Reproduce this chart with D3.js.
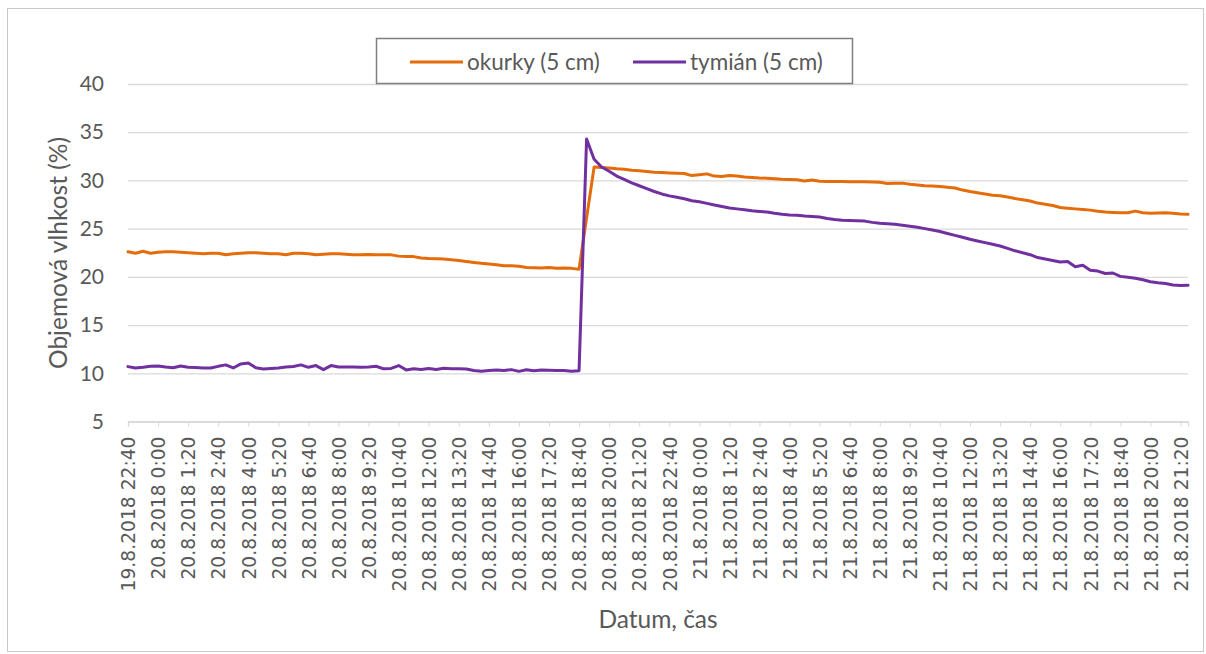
<!DOCTYPE html>
<html>
<head>
<meta charset="utf-8">
<script src="https://cdn.jsdelivr.net/npm/d3@7"></script>
<style>
body { margin: 0; background: #fff; }
svg { display: block; }
</style>
</head>
<body>
<svg id="chart" width="1206" height="654"></svg>
<script>
// tick labels every 4th category (20 min steps)
var tickLabels = ["19.8.2018 22:40", "20.8.2018 0:00", "20.8.2018 1:20", "20.8.2018 2:40", "20.8.2018 4:00",
  "20.8.2018 5:20", "20.8.2018 6:40", "20.8.2018 8:00", "20.8.2018 9:20", "20.8.2018 10:40",
  "20.8.2018 12:00", "20.8.2018 13:20", "20.8.2018 14:40", "20.8.2018 16:00", "20.8.2018 17:20",
  "20.8.2018 18:40", "20.8.2018 20:00", "20.8.2018 21:20", "20.8.2018 22:40", "21.8.2018 0:00",
  "21.8.2018 1:20", "21.8.2018 2:40", "21.8.2018 4:00", "21.8.2018 5:20", "21.8.2018 6:40",
  "21.8.2018 8:00", "21.8.2018 9:20", "21.8.2018 10:40", "21.8.2018 12:00", "21.8.2018 13:20",
  "21.8.2018 14:40", "21.8.2018 16:00", "21.8.2018 17:20", "21.8.2018 18:40", "21.8.2018 20:00",
  "21.8.2018 21:20"];

var yTicks = [5, 10, 15, 20, 25, 30, 35, 40];

var okurky = [
  22.6, 22.45, 22.65, 22.45, 22.55, 22.6, 22.6, 22.55, 22.5, 22.45,
  22.4, 22.45, 22.45, 22.3, 22.4, 22.45, 22.5, 22.5, 22.45, 22.4,
  22.4, 22.3, 22.45, 22.45, 22.4, 22.3, 22.35, 22.4, 22.4, 22.35,
  22.3, 22.3, 22.32, 22.3, 22.3, 22.28, 22.15, 22.12, 22.1, 21.95,
  21.9, 21.88, 21.85, 21.78, 21.7, 21.6, 21.5, 21.4, 21.33, 21.25,
  21.15, 21.15, 21.1, 20.98, 20.95, 20.92, 20.98, 20.9, 20.92, 20.88,
  20.8, 26.1,
  31.38, 31.35, 31.3, 31.2, 31.15, 31.05, 31.0, 30.92,
  30.85, 30.82, 30.78, 30.75, 30.72, 30.5, 30.6, 30.68, 30.45, 30.4,
  30.5, 30.45, 30.35, 30.3, 30.25, 30.22, 30.18, 30.12, 30.1, 30.08,
  29.95, 30.05, 29.92, 29.9, 29.9, 29.88, 29.87, 29.86, 29.86, 29.84,
  29.8, 29.68, 29.7, 29.72, 29.6, 29.52, 29.45, 29.42, 29.38, 29.3,
  29.22, 29.0, 28.85, 28.72, 28.6, 28.47, 28.4, 28.28, 28.12, 28.0,
  27.86, 27.65, 27.52, 27.4, 27.2, 27.12, 27.05, 26.98, 26.92, 26.8,
  26.72, 26.68, 26.65, 26.65, 26.82, 26.65, 26.6, 26.62, 26.65, 26.6,
  26.52, 26.48];

var tymian = [
  10.69, 10.55, 10.62, 10.72, 10.76, 10.66, 10.58, 10.76, 10.62, 10.6,
  10.55, 10.55, 10.72, 10.87, 10.55, 10.97, 11.07, 10.58, 10.45, 10.5,
  10.56, 10.64, 10.7, 10.87, 10.62, 10.8, 10.38, 10.8, 10.65, 10.66,
  10.64, 10.62, 10.66, 10.73, 10.46, 10.5, 10.8, 10.35, 10.46, 10.4,
  10.5, 10.4, 10.52, 10.46, 10.46, 10.44, 10.28, 10.22, 10.3, 10.34,
  10.28, 10.38, 10.2, 10.36, 10.26, 10.34, 10.32, 10.3, 10.28, 10.2,
  10.26, 34.3,
  32.2, 31.4, 30.95, 30.45, 30.1, 29.75, 29.45, 29.15,
  28.85, 28.6, 28.4, 28.25, 28.1, 27.9, 27.78, 27.62, 27.45, 27.3,
  27.15, 27.05, 26.95, 26.85, 26.78, 26.72, 26.6, 26.5, 26.42, 26.38,
  26.3, 26.25, 26.2, 26.05, 25.95, 25.88, 25.85, 25.82, 25.78, 25.65,
  25.55, 25.5, 25.45, 25.35, 25.25, 25.15, 25.0, 24.85, 24.7, 24.5,
  24.3, 24.1, 23.9, 23.72, 23.55, 23.38, 23.2, 22.95, 22.7, 22.5,
  22.3, 22.0, 21.85, 21.7, 21.55, 21.6, 21.05, 21.2, 20.68, 20.6,
  20.35, 20.4, 20.05, 19.95, 19.85, 19.7, 19.5, 19.4, 19.32, 19.15,
  19.1, 19.12];

var series = [
  {name: "okurky (5 cm)", values: okurky, color: "#E46C0A"},
  {name: "tymián (5 cm)", values: tymian, color: "#7030A0"}
];

var svg = d3.select("#chart");
var plot = {left: 128, right: 1188, top: 84, bottom: 421.5};
var textFont = "Lato, 'Open Sans', sans-serif";
var grey = "#595959";

// chart frame
svg.append("rect")
  .attr("x", 7.5).attr("y", 8.5)
  .attr("width", 1196).attr("height", 643)
  .attr("fill", "#fff")
  .attr("stroke", "#c8c8c8");

var x = d3.scaleLinear()
  .domain([0, okurky.length - 1])
  .range([plot.left, plot.right]);

var y = d3.scaleLinear()
  .domain([5, 40])
  .range([plot.bottom, plot.top]);

// gridlines
svg.append("g")
  .attr("class", "grid")
  .attr("transform", "translate(" + plot.left + ",0)")
  .call(d3.axisLeft(y).tickValues(yTicks).tickSize(-(plot.right - plot.left)).tickFormat(""))
  .call(function(g){
    g.select(".domain").remove();
    g.selectAll("line").attr("stroke", "#d9d9d9").attr("stroke-width", 1.3);
  });

// y axis labels
svg.append("g")
  .attr("transform", "translate(" + plot.left + ",0)")
  .call(d3.axisLeft(y).tickValues(yTicks).tickSize(0).tickPadding(24))
  .call(function(g){
    g.select(".domain").remove();
    g.selectAll("text")
      .attr("fill", grey)
      .style("font-family", textFont)
      .style("font-size", "21px");
  });

// x axis
var xAxis = d3.axisBottom(x)
  .tickValues(d3.range(0, okurky.length, 4))
  .tickSize(5)
  .tickFormat(function(d){ return tickLabels[d / 4]; });

svg.append("g")
  .attr("transform", "translate(0," + plot.bottom + ")")
  .call(xAxis)
  .call(function(g){
    g.select(".domain").attr("stroke", "#d9d9d9").attr("stroke-width", 1.3);
    g.selectAll(".tick line").attr("stroke", "#d9d9d9");
    g.selectAll("text")
      .attr("fill", grey)
      .style("font-family", "'DejaVu Sans', sans-serif")
      .style("font-size", "18.7px")
      .attr("transform", "rotate(-90)")
      .attr("text-anchor", "end")
      .attr("x", -15)
      .attr("y", 0)
      .attr("dy", "0.36em");
  });

// lines
var line = d3.line()
  .x(function(d, i){ return x(i); })
  .y(function(d){ return y(d); });

svg.append("g").selectAll("path")
  .data(series)
  .enter().append("path")
  .attr("d", function(d){ return line(d.values); })
  .attr("fill", "none")
  .attr("stroke", function(d){ return d.color; })
  .attr("stroke-width", 3)
  .attr("stroke-linejoin", "round")
  .attr("stroke-linecap", "round");

// axis titles
svg.append("text")
  .attr("transform", "translate(67,253) rotate(-90)")
  .attr("text-anchor", "middle")
  .attr("fill", grey)
  .style("font-family", textFont)
  .style("font-size", "24.5px")
  .text("Objemová vlhkost (%)");

svg.append("text")
  .attr("x", (plot.left + plot.right) / 2)
  .attr("y", 628)
  .attr("text-anchor", "middle")
  .attr("fill", grey)
  .style("font-family", textFont)
  .style("font-size", "24.5px")
  .text("Datum, čas");

// legend
var legend = svg.append("g");
legend.append("rect")
  .attr("x", 376.5).attr("y", 38.5)
  .attr("width", 476).attr("height", 45)
  .attr("fill", "#fff")
  .attr("stroke", "#7f7f7f")
  .attr("stroke-width", 1.5);

var item = legend.selectAll("g.item")
  .data(series)
  .enter().append("g")
  .attr("class", "item")
  .attr("transform", function(d, i){ return "translate(" + (410 + i * 223) + ",62)"; });

item.append("line")
  .attr("x1", 0).attr("x2", 53)
  .attr("stroke", function(d){ return d.color; })
  .attr("stroke-width", 3);

item.append("text")
  .attr("x", 57)
  .attr("y", 8)
  .attr("fill", grey)
  .style("font-family", textFont)
  .style("font-size", "22.5px")
  .text(function(d){ return d.name; });
</script>
</body>
</html>
